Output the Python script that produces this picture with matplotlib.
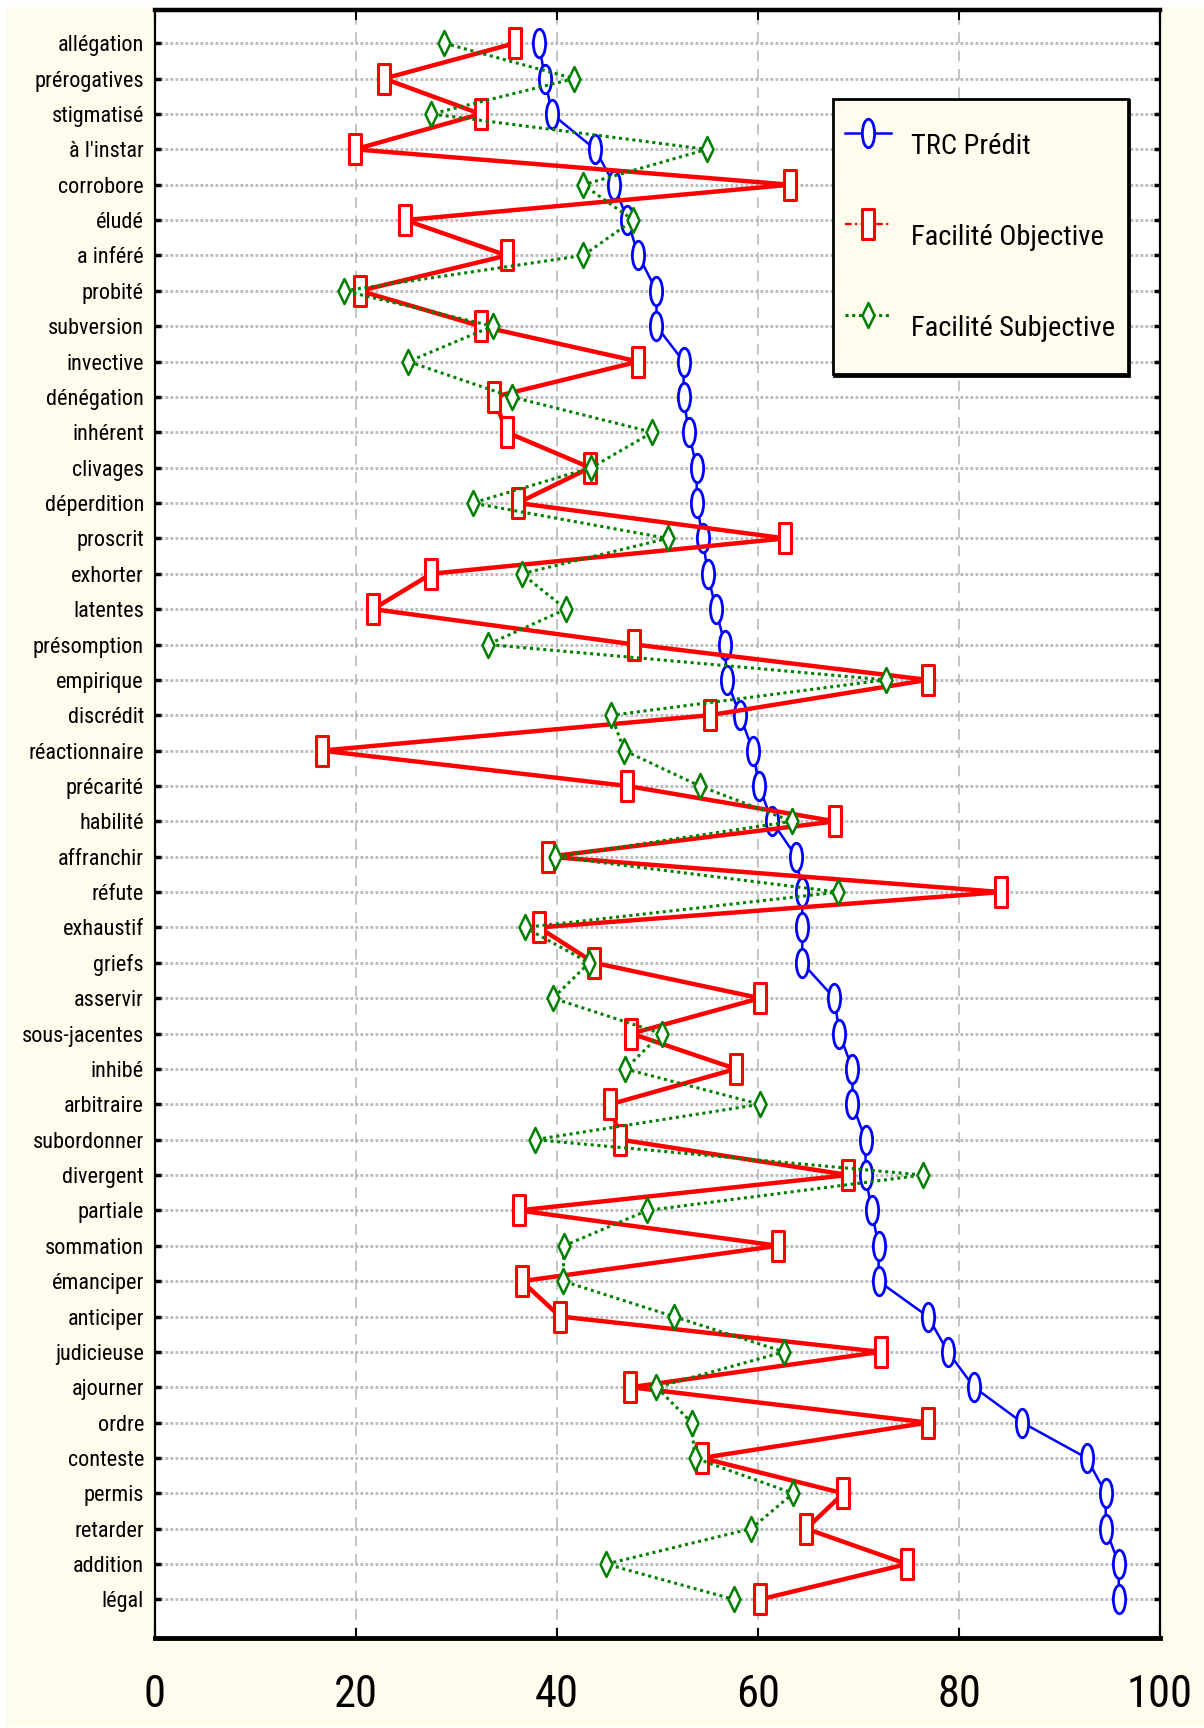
"""
Temps de reconnaissance prédit (TRC) et facilité objective / subjective
de 45 mots, lus sur le graphique de référence.
"""

import numpy as np
import matplotlib
matplotlib.use("Agg")
import matplotlib.pyplot as plt
from matplotlib import font_manager
from matplotlib.lines import Line2D
from matplotlib.patches import Rectangle
from matplotlib.path import Path
from matplotlib.transforms import Affine2D


words = [
    "allégation", "prérogatives", "stigmatisé", "à l'instar", "corrobore",
    "éludé", "a inféré", "probité", "subversion", "invective",
    "dénégation", "inhérent", "clivages", "déperdition", "proscrit",
    "exhorter", "latentes", "présomption", "empirique", "discrédit",
    "réactionnaire", "précarité", "habilité", "affranchir", "réfute",
    "exhaustif", "griefs", "asservir", "sous-jacentes", "inhibé",
    "arbitraire", "subordonner", "divergent", "partiale", "sommation",
    "émanciper", "anticiper", "judicieuse", "ajourner", "ordre",
    "conteste", "permis", "retarder", "addition", "légal",
]

trc_predit = [
    38.2, 38.8, 39.5, 43.8, 45.7, 47.0, 48.1, 49.9, 49.9, 52.6,
    52.6, 53.1, 53.9, 53.9, 54.5, 55.0, 55.8, 56.7, 56.9, 58.2,
    59.5, 60.1, 61.4, 63.8, 64.4, 64.4, 64.4, 67.6, 68.1, 69.4,
    69.4, 70.7, 70.7, 71.3, 72.0, 72.0, 76.9, 78.9, 81.5, 86.3,
    92.7, 94.6, 94.6, 95.9, 95.9,
]

facilite_objective = [
    35.8, 22.8, 32.4, 19.9, 63.2, 24.9, 35.0, 20.4, 32.4, 48.1,
    33.7, 35.0, 43.3, 36.1, 62.7, 27.5, 21.7, 47.7, 76.9, 55.2,
    16.6, 47.0, 67.7, 39.1, 84.2, 38.2, 43.7, 60.2, 47.4, 57.8,
    45.3, 46.3, 69.0, 36.2, 62.0, 36.5, 40.3, 72.2, 47.3, 76.9,
    54.4, 68.5, 64.8, 74.8, 60.2,
]

facilite_subjective = [
    28.8, 41.7, 27.5, 54.9, 42.6, 47.6, 42.6, 18.8, 33.6, 25.2,
    35.5, 49.5, 43.4, 31.6, 51.0, 36.5, 40.9, 33.1, 72.7, 45.4,
    46.7, 54.2, 63.4, 39.8, 68.0, 36.8, 43.2, 39.6, 50.4, 46.8,
    60.2, 37.8, 76.4, 49.0, 40.7, 40.6, 51.6, 62.6, 49.9, 53.4,
    53.7, 63.5, 59.3, 44.9, 57.6,
]

x_ticks = [0, 20, 40, 60, 80, 100]
series_labels = ["TRC Prédit", "Facilité Objective", "Facilité Subjective"]

CREAM = "#fffcee"
BLUE = "#0000ff"
RED = "#ff0000"
GREEN = "#008000"


def pick_font() -> str:
    """Prefer a narrow face, the reference text is very condensed."""
    names = {f.name for f in font_manager.fontManager.ttflist}
    for name in ("Liberation Sans Narrow", "Roboto Condensed", "Liberation Sans"):
        if name in names:
            return name
    return "DejaVu Sans"


def tall(path: Path, squeeze: float) -> Path:
    """Squeeze a marker path horizontally (markers are tall in the reference)."""
    return Affine2D().scale(squeeze, 1.0).transform_path(path)


closed = [Path.MOVETO, Path.LINETO, Path.LINETO, Path.LINETO, Path.CLOSEPOLY]
CIRCLE = tall(Path.unit_circle(), 0.43)
SQUARE = tall(Path([(-1, -1), (1, -1), (1, 1), (-1, 1), (-1, -1)], closed), 0.42)
DIAMOND = tall(Path([(0, -1), (1, 0), (0, 1), (-1, 0), (0, -1)], closed), 0.48)

blue_style = dict(color=BLUE, lw=1.8, marker=CIRCLE, ms=20.5,
                  mfc="white", mec=BLUE, mew=2.0)
red_style = dict(color=RED, lw=3.2, marker=SQUARE, ms=21.5,
                 mfc="white", mec=RED, mew=2.2)
green_style = dict(color=GREEN, lw=2.2, ls=(0, (1, 1.2)), marker=DIAMOND,
                   ms=18, mfc="white", mec=GREEN, mew=1.8)

plt.rcParams["font.family"] = [pick_font(), "DejaVu Sans"]

fig = plt.figure(figsize=(12.04, 17.28), dpi=100, facecolor="white")
fig.patches.append(Rectangle((6 / 1204, 2 / 1728), 1, 1 - 9 / 1728,
                             transform=fig.transFigure, facecolor=CREAM,
                             edgecolor="none", zorder=-10))
ax = fig.add_axes([155 / 1204, 90 / 1728, 1005 / 1204, 1628 / 1728])
ax.set_facecolor("white")

y = np.arange(len(words))

ax.plot(trc_predit, y, zorder=3, **blue_style)
ax.plot(facilite_objective, y, zorder=4, **red_style)
ax.plot(facilite_subjective, y, zorder=5, **green_style)

ax.set_xlim(0, 100)
ax.set_ylim(45.09, -0.94)
ax.set_xticks(x_ticks)
ax.set_xticklabels([str(t) for t in x_ticks])
ax.set_yticks(y)
ax.set_yticklabels(words)

ax.yaxis.grid(True, color="#b8b8b8", lw=2.0, ls=(0, (1, 0.8)), zorder=1)
ax.xaxis.grid(True, color="#b4b4b4", lw=1.1, ls=(0, (7, 5)), zorder=1)
ax.set_axisbelow(True)

for side, width in (("top", 3.2), ("bottom", 3.5), ("left", 1.6), ("right", 1.6)):
    ax.spines[side].set_linewidth(width)
    ax.spines[side].set_color("black")

ax.tick_params(axis="y", direction="in", length=4, width=2.5,
               left=True, right=True, pad=8, labelsize=16)
ax.tick_params(axis="x", direction="in", length=7, width=1.5,
               top=True, bottom=True, pad=26, labelsize=32)

# the legend draws the objective line dash-dot, unlike the plotted series
legend_red = dict(red_style, lw=1.6, ls=(0, (3, 1.5, 1, 1.5)))
handles = [Line2D([], [], **blue_style),
           Line2D([], [], **legend_red),
           Line2D([], [], **green_style)]
leg = ax.legend(handles, series_labels, loc="upper right",
                bbox_to_anchor=(0.968, 0.9453), borderaxespad=0,
                fontsize=20.5, frameon=True, fancybox=False,
                shadow={"color": "black", "alpha": 1.0, "ox": 1, "oy": -1},
                facecolor=CREAM, edgecolor="black", framealpha=1,
                handlelength=1.6, handleheight=3.3, handletextpad=0.7,
                labelspacing=0.8, borderpad=0.45)
leg.get_frame().set_linewidth(2.0)
leg.set_zorder(10)

fig.savefig("out.png", dpi=100, facecolor=fig.get_facecolor())
